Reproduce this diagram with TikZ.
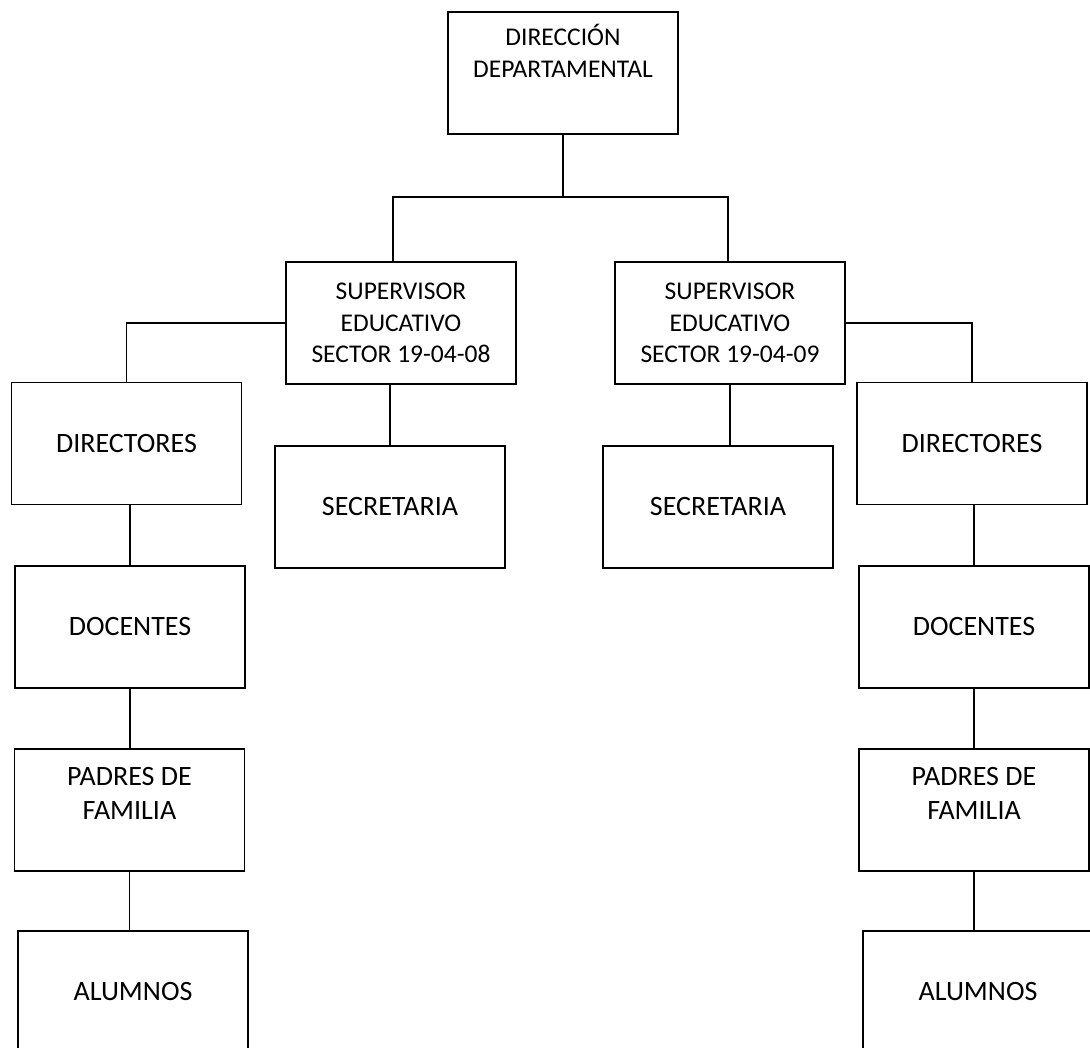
\documentclass[tikz,border=0pt]{standalone}
\usepackage{fontspec}
\setmainfont{Carlito}
\usepackage{tikz}
\usetikzlibrary{positioning, calc}

\begin{document}
\begin{tikzpicture}[x=1pt, y=-1pt,
  unit/.style={draw, line width=1.6pt, minimum width=230pt, minimum height=122pt, inner sep=0pt, align=center},
  bigtext/.style={font=\fontsize{28}{34}\selectfont},
  smalltext/.style={font=\fontsize{25.5}{31.5}\selectfont},
  link/.style={line width=1.1pt}]
  \useasboundingbox (0,0) rectangle (1090,1048);

  % Top level
  \node[unit, smalltext, text depth=44pt] (dir) at (563,73) {DIRECCIÓN\\DEPARTAMENTAL};
  \coordinate (bus) at (563,197);

  % Supervisors and their secretaries
  \node[unit, smalltext] (supL) at (401,323) {SUPERVISOR\\EDUCATIVO\\SECTOR 19-04-08};
  \node[unit, smalltext] (supR) at (730,323) {SUPERVISOR\\EDUCATIVO\\SECTOR 19-04-09};
  \node[unit, bigtext] (secL) at (390,507) {SECRETARIA};
  \node[unit, bigtext] (secR) at (718,507) {SECRETARIA};

  % Left branch
  \node[unit, bigtext] (dirL) at (126.5,443.5) {DIRECTORES};
  \node[unit, bigtext] (docL) at (130,627) {DOCENTES};
  \node[unit, bigtext, text depth=34pt] (padL) at (129.5,810) {PADRES DE\\FAMILIA};
  \node[unit, bigtext] (aluL) at (133,992) {ALUMNOS};

  % Right branch
  \node[unit, bigtext] (dirR) at (972,443.5) {DIRECTORES};
  \node[unit, bigtext] (docR) at (974,627) {DOCENTES};
  \node[unit, bigtext, text depth=34pt] (padR) at (974,810) {PADRES DE\\FAMILIA};
  \node[unit, bigtext] (aluR) at (978,992) {ALUMNOS};

  % Connectors
  \draw[link] (dir) -- (bus);
  \draw[link] ([xshift=-8pt]supL.north) |- (bus) -| ([xshift=-2pt]supR.north);
  \draw[link] (supL.west) -| (dirL.north);
  \draw[link] (supR.east) -| (dirR.north);
  \draw[link] (secL.north |- supL.south) -- (secL.north);
  \draw[link] (supR.south) -- (supR.south |- secR.north);
  \draw[link] (docL.north |- dirL.south) -- (docL.north);
  \draw[link] (docL.south) -- (docL.south |- padL.north);
  \draw[link] (padL.south) -- (padL.south |- aluL.north);
  \draw[link] (docR.north |- dirR.south) -- (docR.north);
  \draw[link] (docR.south) -- (docR.south |- padR.north);
  \draw[link] (padR.south) -- (padR.south |- aluR.north);
\end{tikzpicture}
\end{document}
